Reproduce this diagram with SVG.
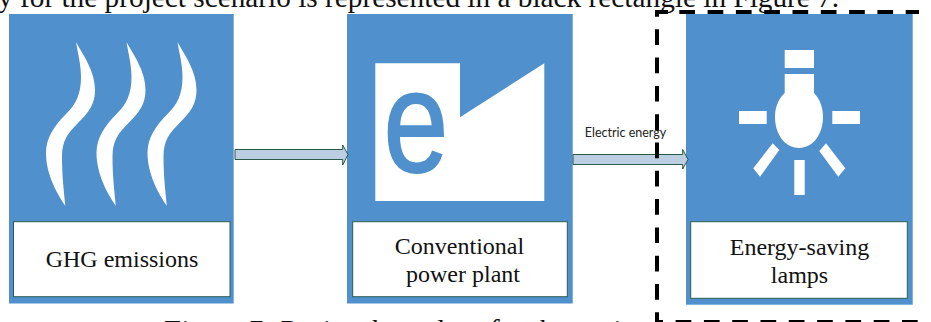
<svg xmlns="http://www.w3.org/2000/svg" width="931" height="322" viewBox="0 0 931 322">
<style>
.panel{fill:#4f90cd}
.box{fill:#fff;stroke:#2f5c50;stroke-width:1}
.icon{fill:#fff}
.t{font-family:"Liberation Serif",serif;font-size:24px;fill:#111;text-anchor:middle}
.page{font-family:"Liberation Serif",serif;font-size:29.300px;fill:#111}
.arrow{fill:#bccfe2;stroke:#2a5a45;stroke-width:1}
.dash{fill:none;stroke:#000;stroke-width:4;stroke-dasharray:15.700 12.600}
</style>
<defs>
<path id="flame" d="M76 42.300C84 56 95 72 95 90C95 104 89 112 78 123C68 133 62 140 62 157C62 176 64 192 65.300 205.700C57 194 46 174 46 153C46 138 54 126 66 114C76 104 81 94 81 77C81 65 78 54 76 42.300Z"/>
</defs>
<rect width="931" height="322" fill="#fff"/>
<text class="page" x="-2" y="7">y for the project scenario is represented in a black rectangle in Figure 7.</text>
<text x="162" y="339.500" font-family="Liberation Serif,serif" font-size="29" font-style="italic" fill="#111">Figure 7: Project boundary for the project</text>
<g id="ghg">
<rect class="panel" x="9" y="14" width="224.700" height="289.500"/>
<g class="icon">
<use href="#flame"/>
<use href="#flame" x="50.500"/>
<use href="#flame" x="101.500"/>
</g>
<rect class="box" x="13.500" y="221.700" width="216.500" height="75"/>
<text class="t" x="122" y="267">GHG emissions</text>
</g>
<g id="plant">
<rect class="panel" x="347" y="14" width="225.700" height="289.500"/>
<path class="icon" d="M375.300 63.300H460V117.300L544.300 63.300V201H375.300Z"/>
<text transform="translate(416 172) scale(1.040 1.300)" font-family="Liberation Sans,sans-serif" font-size="112" fill="#4f90cd" stroke="#4f90cd" stroke-width="1.500" text-anchor="middle">e</text>
<rect class="box" x="352.700" y="221.700" width="214.600" height="75"/>
<text class="t" x="459.500" y="253.500">Conventional</text>
<text class="t" x="463" y="282">power plant</text>
</g>
<g id="lamps">
<rect class="panel" x="686" y="14" width="226.700" height="290.700"/>
<g class="icon">
<rect x="784.700" y="50" width="29.300" height="18"/>
<path d="M784.700 74H814V93C820 99 823 108 823 117C823 134 813 148 799 148C785 148 775 134 775 117C775 108 778 99 784.700 93Z"/>
<rect x="739" y="111" width="27.700" height="13"/>
<rect x="832.300" y="111" width="27.700" height="13"/>
<path d="M772.700 143.300L779.300 150L760 176.700L753.300 168.300Z"/>
<rect x="794.300" y="160" width="10.400" height="35"/>
<path d="M826 143.300L819.300 151L838.300 176.700L845.300 168.300Z"/>
</g>
<rect class="box" x="690.700" y="221.700" width="216.600" height="76.600"/>
<text class="t" x="799.500" y="255">Energy-saving</text>
<text class="t" x="799.500" y="282.500">lamps</text>
</g>
<g id="connectors">
<path class="arrow" d="M235 149.500H342.700V145L348 154.500L342.700 165V159.500H235Z"/>
<path class="arrow" d="M573 154.500H682.700V149.500L688 159.500L682.700 169V164.500H573Z"/>
</g>
<path class="dash" d="M668 12H657V322H925"/>
<path class="dash" d="M679.300 12H919"/>
<text x="625.500" y="137" font-family="Lato,sans-serif" font-size="12.500" fill="#222" text-anchor="middle">Electric energy</text>
</svg>
